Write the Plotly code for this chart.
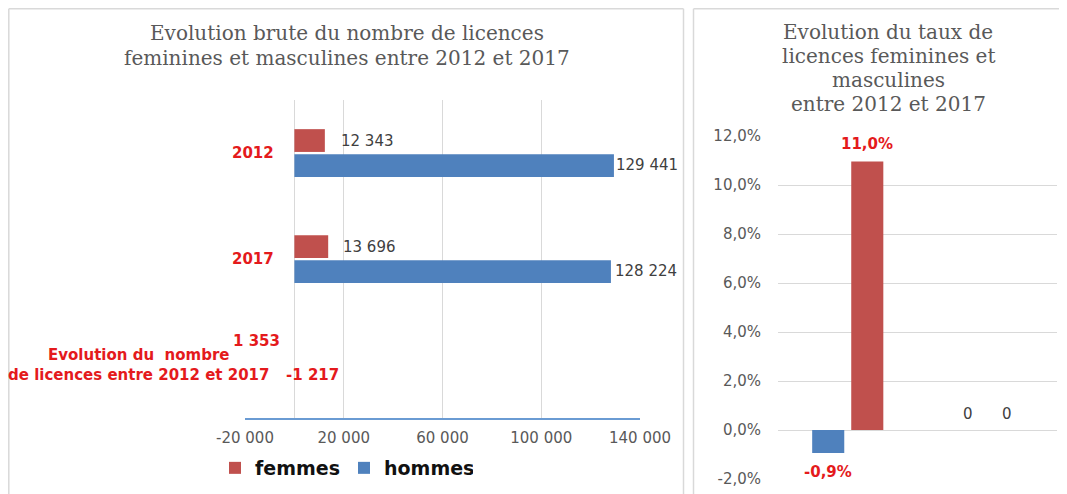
import plotly.graph_objects as go

# The page body adds an 8 px margin, so the figure is sized to fill the rest
# of the 1067x494 window and positions are given in window pixels.
OFF = 8
W, H = 1067 - OFF, 494 - OFF

# ---------------- data ----------------
# Left chart: raw number of licences
categories_left = ["2012", "2017", "Evolution du  nombre<br>de licences entre 2012 et 2017"]
femmes_counts = [12343, 13696, 1353]
hommes_counts = [129441, 128224, -1217]
x_tickvals_left = [-20000, 20000, 60000, 100000, 140000]
x_ticktext_left = ["-20 000", "20 000", "60 000", "100 000", "140 000"]

# Right chart: rate of change
categories_right = ["Evolution du taux", "autre"]
hommes_rates = [-0.0094, 0.0]
femmes_rates = [0.1096, 0.0]
y_tickvals_right = [-0.02, 0.0, 0.02, 0.04, 0.06, 0.08, 0.10, 0.12]
y_ticktext_right = ["-2,0%", "0,0%", "2,0%", "4,0%", "6,0%", "8,0%", "10,0%", "12,0%"]

title_left = ["Evolution brute du nombre de licences",
              "feminines et masculines entre 2012 et 2017"]
title_right = ["Evolution du taux de", "licences feminines et",
               "masculines", "entre 2012 et 2017"]

# ---------------- styles ----------------
RED_BAR = "#C0504D"
BLUE_BAR = "#4F81BD"
LABEL_RED = "#E41A1C"
GRAY = "#595959"
LABEL_GRAY = "#404040"
GRID = "#D9D9D9"
SANS = "DejaVu Sans"
SERIF = "DejaVu Serif"


def fx(px):
    return (px - OFF) / W


def fy(py):
    return 1 - (py - OFF) / H


def fmt_int(v):
    return f"{v:,}".replace(",", " ")


def fmt_pct(v):
    if v == 0:
        return "0"
    return f"{v * 100:.1f}%".replace(".", ",")


fig = go.Figure()

# ---- left chart bars (horizontal) ----
n_left = len(categories_left)
fig.add_trace(go.Bar(
    name="femmes", y=categories_left, x=femmes_counts, orientation="h",
    width=0.215, offset=-0.225,
    marker=dict(color=[RED_BAR] * (n_left - 1) + ["rgba(0,0,0,0)"], line=dict(width=0)),
    legendrank=1, hoverinfo="x+y", xaxis="x", yaxis="y",
))
fig.add_trace(go.Bar(
    name="hommes", y=categories_left, x=hommes_counts, orientation="h",
    width=0.215, offset=0.012,
    marker=dict(color=[BLUE_BAR] * (n_left - 1) + ["rgba(0,0,0,0)"], line=dict(width=0)),
    legendrank=2, hoverinfo="x+y", xaxis="x", yaxis="y",
))

# ---- right chart bars (vertical) ----
BAR_W_R = 0.23
OFFS_R = {"hommes": -0.255, "femmes": 0.025}
fig.add_trace(go.Bar(
    name="hommes", x=categories_right, y=hommes_rates,
    width=BAR_W_R, offset=OFFS_R["hommes"],
    marker=dict(color=BLUE_BAR, line=dict(width=0)),
    showlegend=False, xaxis="x2", yaxis="y2",
))
fig.add_trace(go.Bar(
    name="femmes", x=categories_right, y=femmes_rates,
    width=BAR_W_R, offset=OFFS_R["femmes"],
    marker=dict(color=RED_BAR, line=dict(width=0)),
    showlegend=False, xaxis="x2", yaxis="y2",
))

annotations = []

# ---- left data labels (y given as category index) ----
fem_pos = [("left", 14, 12), ("left", 13, 12), ("center", -41, 24)]
hom_pos = [("left", 0, -12), ("left", 2, -12), ("center", 21, -10)]
for series, pos in ((femmes_counts, fem_pos), (hommes_counts, hom_pos)):
    for i, (v, (anc, xs, ys)) in enumerate(zip(series, pos)):
        special = i == n_left - 1
        annotations.append(dict(
            x=v, y=i, xref="x", yref="y",
            text=("<b>%s</b>" % fmt_int(v)) if special else fmt_int(v),
            showarrow=False, xanchor=anc, yanchor="middle", xshift=xs, yshift=ys,
            font=dict(family=SANS, size=15, color=LABEL_RED if special else LABEL_GRAY)))

# ---- right data labels ----
for key, series in (("hommes", hommes_rates), ("femmes", femmes_rates)):
    for i, v in enumerate(series):
        cx = i + OFFS_R[key] + BAR_W_R / 2
        if v > 0:
            anc, ys = "bottom", 6
        elif v < 0:
            anc, ys = "top", -8
        else:
            anc, ys = "bottom", 5
        annotations.append(dict(
            x=cx, y=v, xref="x2", yref="y2",
            text=("<b>%s</b>" % fmt_pct(v)) if v != 0 else fmt_pct(v),
            showarrow=False, xanchor="center", yanchor=anc, yshift=ys,
            font=dict(family=SANS, size=15, color=LABEL_RED if v != 0 else LABEL_GRAY)))

# ---- left category labels ----
cat_label_x = [253, 253, 138]
for i, (cat, cx) in enumerate(zip(categories_left, cat_label_x)):
    annotations.append(dict(
        x=fx(cx), y=i, xref="paper", yref="y", text="<b>%s</b>" % cat,
        showarrow=False, xanchor="center", yanchor="middle", align="center",
        font=dict(family=SANS, size=15, color=LABEL_RED)))

# ---- titles ----
for line, py in zip(title_left, [33, 58]):
    annotations.append(dict(x=fx(347), y=fy(py), xref="paper", yref="paper", text=line,
                            showarrow=False, xanchor="center", yanchor="middle",
                            font=dict(family=SERIF, size=20, color=GRAY)))
for line, py in zip(title_right, [32, 56, 80, 104]):
    annotations.append(dict(x=fx(888), y=fy(py), xref="paper", yref="paper", text=line,
                            showarrow=False, xanchor="center", yanchor="middle",
                            font=dict(family=SERIF, size=20, color=GRAY)))


# ---- panel borders (left, top, right edges) ----
def border(x0, x1, top):
    st = dict(type="line", xref="paper", yref="paper", line=dict(color=GRID, width=1.5), layer="below")
    return [dict(st, x0=fx(x0), x1=fx(x0), y0=0, y1=fy(top)),
            dict(st, x0=fx(x0), x1=fx(x1), y0=fy(top), y1=fy(top)),
            dict(st, x0=fx(x1), x1=fx(x1), y0=0, y1=fy(top))]


shapes = border(8.8, 683.5, 8.8) + border(693.5, 1066.5, 8.8)[:2]

fig.update_layout(
    width=W, height=H, margin=dict(l=0, r=0, t=0, b=0, autoexpand=False),
    paper_bgcolor="white", plot_bgcolor="white",
    barmode="overlay",
    showlegend=True,
    legend=dict(orientation="h", x=fx(215), y=fy(468), xanchor="left", yanchor="middle",
                font=dict(family=SANS, size=19, color="#111111", weight="bold"),
                bgcolor="rgba(0,0,0,0)", entrywidth=84, entrywidthmode="pixels",
                itemclick=False, traceorder="normal"),
    xaxis=dict(domain=[fx(245), fx(640)], range=[-20000, 140000],
               tickvals=x_tickvals_left, ticktext=x_ticktext_left,
               showgrid=True, gridcolor=GRID, gridwidth=1.2,
               zeroline=True, zerolinecolor=GRID, zerolinewidth=1.2,
               showline=True, linecolor="#6A9BD3", linewidth=1.5,
               ticks="", ticklabelstandoff=5, tickfont=dict(family=SANS, size=15, color=GRAY),
               anchor="y", fixedrange=True, automargin=False),
    yaxis=dict(domain=[fy(418), fy(100)], autorange="reversed", type="category",
               showticklabels=False, showgrid=False, zeroline=False, showline=False,
               anchor="x", fixedrange=True, automargin=False),
    xaxis2=dict(domain=[fx(778), fx(1057)], type="category", showticklabels=False,
                showgrid=False, zeroline=False, showline=False, ticks="",
                anchor="y2", fixedrange=True, automargin=False),
    yaxis2=dict(domain=[fy(479), fy(136)], range=[-0.02, 0.12],
                tickvals=y_tickvals_right, ticktext=y_ticktext_right,
                showgrid=True, gridcolor=GRID, gridwidth=1.2,
                zeroline=True, zerolinecolor=GRID, zerolinewidth=1.2,
                showline=False, ticks="", ticklabelstandoff=16,
                tickfont=dict(family=SANS, size=15, color=GRAY),
                anchor="x2", fixedrange=True, automargin=False),
    annotations=annotations,
    shapes=shapes,
)

fig.write_html("out.html")
